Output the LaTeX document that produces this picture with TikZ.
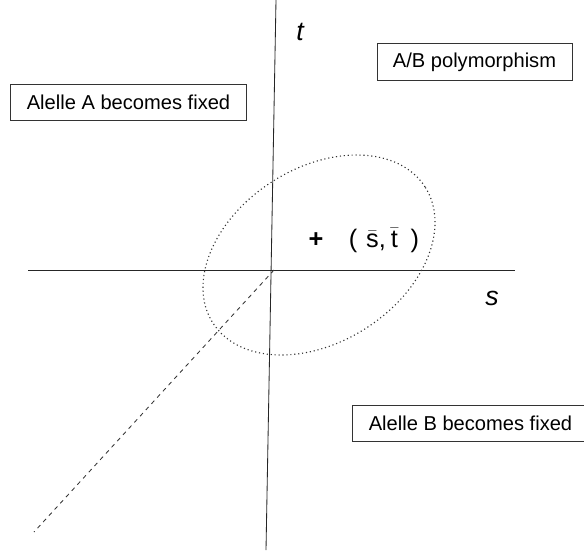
\documentclass[tikz,border=0pt]{standalone}
\usepackage{fontspec}
\setmainfont{Liberation Sans}
\usepackage{tikz}
\usetikzlibrary{positioning}
\tikzset{
  axis/.style={draw=black!85, line width=0.6pt},
  diag/.style={draw=black!80, line width=0.6pt, dashed},
  ell/.style={draw=black!80, line width=0.8pt, dotted},
  regbox/.style={draw=black!80, line width=0.6pt, fill=white, inner xsep=0.4cm,
    minimum height=0.92cm, font=\fontsize{14.3}{17}\selectfont},
  axlbl/.style={font=\fontsize{19}{22}\selectfont\itshape, inner sep=1pt},
  ptlbl/.style={font=\fontsize{18}{21}\selectfont, inner sep=1pt},
  phase/.style={x=0.025cm, y=-0.025cm}
}
\newcommand{\barred}[1]{\ensuremath{\bar{\mbox{#1}}}}
\begin{document}
\begin{tikzpicture}[phase]
        \useasboundingbox (0,0) rectangle (584,555);
        % axes
        \coordinate (O) at (274,270);
        \coordinate (tTop) at (276,0);
        \coordinate (tBot) at (266,550);
        \coordinate (sLeft) at (28,270);
        \coordinate (sRight) at (515,270);
        \coordinate (dEnd) at (34,532);
        \coordinate (E) at (319,255);
        \draw[axis] (tTop) -- (tBot);
        \draw[axis] (sLeft) -- (sRight);
        \draw[diag] (O) -- (dEnd);
        \draw[ell, rotate around={32.7:(E)}] (E) ellipse [x radius=3.15cm, y radius=2.175cm];
        \node[axlbl] (t) at (300,32) {t};
        \node[axlbl] (s) at (492,298) {s};
        \node[ptlbl, font=\fontsize{18}{21}\selectfont\bfseries] (plus) at (316,240) {+};
        \node[ptlbl] (mean) at (384,240) {(\hspace{0.35em}\barred{s},\hspace{0.2em}\barred{t}\hspace{0.5em})};
        % regions
        \node[regbox] (poly) at (474.5,62) {A/B polymorphism};
        \node[regbox] (fixA) at (128.5,102.5) {Alelle A becomes fixed};
        \node[regbox] (fixB) at (470.5,423.5) {Alelle B becomes fixed};
      \end{tikzpicture}
\end{document}
